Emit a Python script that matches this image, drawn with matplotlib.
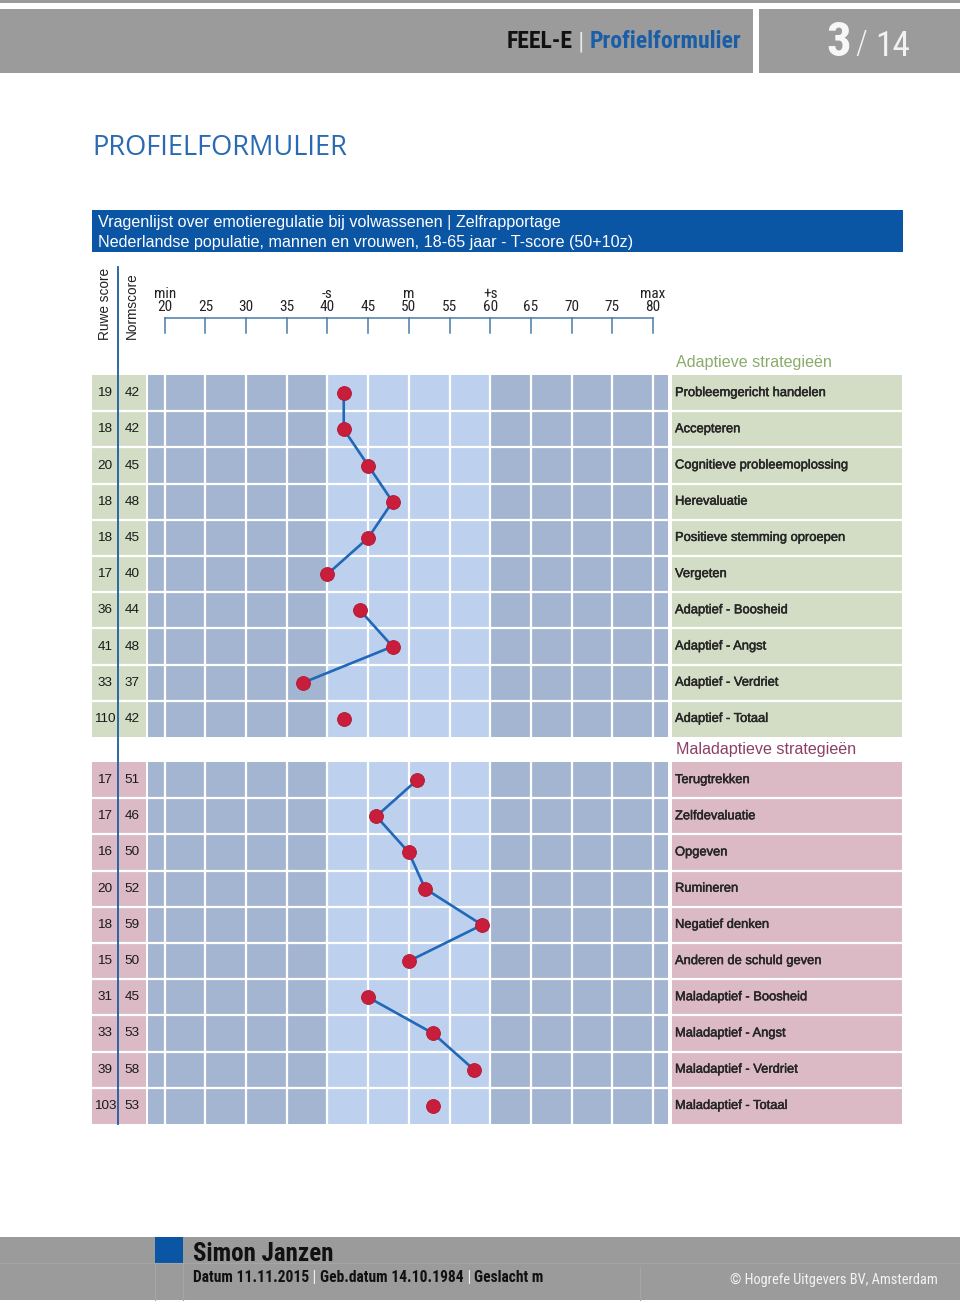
import matplotlib
matplotlib.use('Agg')
import matplotlib.pyplot as plt
from matplotlib.patches import Rectangle
from matplotlib.transforms import blended_transform_factory
from matplotlib import font_manager
import matplotlib.patheffects as pe

# ---------------- data ----------------
adaptive_labels = ["Probleemgericht handelen", "Accepteren", "Cognitieve probleemoplossing",
                   "Herevaluatie", "Positieve stemming oproepen", "Vergeten",
                   "Adaptief - Boosheid", "Adaptief - Angst", "Adaptief - Verdriet",
                   "Adaptief - Totaal"]
adaptive_raw = [19, 18, 20, 18, 18, 17, 36, 41, 33, 110]
adaptive_norm = [42, 42, 45, 48, 45, 40, 44, 48, 37, 42]

maladaptive_labels = ["Terugtrekken", "Zelfdevaluatie", "Opgeven", "Rumineren",
                      "Negatief denken", "Anderen de schuld geven",
                      "Maladaptief - Boosheid", "Maladaptief - Angst",
                      "Maladaptief - Verdriet", "Maladaptief - Totaal"]
maladaptive_raw = [17, 17, 16, 20, 18, 15, 31, 33, 39, 103]
maladaptive_norm = [51, 46, 50, 52, 59, 50, 45, 53, 58, 53]

# groups of rows that are joined by a line
line_groups = [(0, 6), (6, 9), (9, 10)]

tick_values = [20, 25, 30, 35, 40, 45, 50, 55, 60, 65, 70, 75, 80]
tick_extra = {20: "min", 40: "-s", 50: "m", 60: "+s", 80: "max"}

# ---------------- fonts ----------------
available = {f.name for f in font_manager.fontManager.ttflist}
def pick(*names):
    for n in names:
        if n in available:
            return n
    return "DejaVu Sans"
ARIAL = pick("Liberation Sans", "Arimo", "DejaVu Sans")
NARROW = pick("Liberation Sans Narrow", "Roboto Condensed", "Open Sans Condensed", "Roboto", "Liberation Sans")
LIGHT = pick("Open Sans", "Lato", "Liberation Sans")

# ---------------- colours ----------------
GRAY = "#9b9b9b"
BLUE = "#0a55a4"
TITLE_BLUE = "#2a6ab2"
DARK = "#a4b5d1"
LIGHTC = "#bdd0ee"
GREEN = "#d3ddc5"
PINK = "#dcbac5"
LINE = "#2068b8"
RED = "#c81e3c"
AXIS = "#4b7aa6"

W, H = 960, 1303
fig = plt.figure(figsize=(9.6, 13.03), dpi=100)
bg = fig.add_axes([0, 0, 1, 1])
bg.set_xlim(0, W)
bg.set_ylim(H, 0)
bg.axis("off")

# grid geometry (pixels)
X20, X80 = 164.7, 653.0
PPT = (X80 - X20) / 60.0
GX0, GX1 = 148, 668
GY0, GY1 = 375, 1124
GAP = 0.69
NROWS = 20 + GAP

ax = fig.add_axes([GX0 / W, 1 - GY1 / H, (GX1 - GX0) / W, (GY1 - GY0) / H])
xmin = 20 - (X20 - GX0) / PPT
xmax = 80 + (GX1 - X80) / PPT
ax.set_xlim(xmin, xmax)
ax.set_ylim(NROWS, 0)
ax.axis("off")

sections = [(0.0, adaptive_labels, adaptive_raw, adaptive_norm, GREEN),
            (10.0 + GAP, maladaptive_labels, maladaptive_raw, maladaptive_norm, PINK)]

blend_bg_ax = blended_transform_factory(bg.transData, ax.transData)
blend_ax_bg = blended_transform_factory(ax.transData, bg.transData)
thick = [pe.withStroke(linewidth=0.35, foreground="#262626")]

for y0, labels, raw, norm, cellc in sections:
    n = len(labels)
    y1 = y0 + n
    ax.add_patch(Rectangle((xmin, y0), 40 - xmin, n, color=DARK, lw=0, zorder=1))
    ax.add_patch(Rectangle((40, y0), 20, n, color=LIGHTC, lw=0, zorder=1))
    ax.add_patch(Rectangle((60, y0), xmax - 60, n, color=DARK, lw=0, zorder=1))
    ax.vlines(tick_values, y0, y1, color="white", lw=1.6, zorder=2)
    ax.hlines([y0 + k for k in range(1, n)], xmin, xmax, color="white", lw=1.6, zorder=2)
    bg.add_patch(Rectangle((92, y0), 54, n, transform=blend_bg_ax, color=cellc, lw=0, zorder=1))
    bg.add_patch(Rectangle((672, y0), 230, n, transform=blend_bg_ax, color=cellc, lw=0, zorder=1))
    for k in range(1, n):
        bg.plot([92, 146], [y0 + k, y0 + k], transform=blend_bg_ax, color="white", lw=1.6, zorder=2)
        bg.plot([672, 902], [y0 + k, y0 + k], transform=blend_bg_ax, color="white", lw=1.6, zorder=2)
    for i in range(n):
        yc = y0 + i + 0.5
        bg.text(105, yc, str(raw[i]), transform=blend_bg_ax, ha="center", va="center",
                fontsize=9.7, family=ARIAL, color="#1a1a1a", zorder=4)
        bg.text(132, yc, str(norm[i]), transform=blend_bg_ax, ha="center", va="center",
                fontsize=9.7, family=ARIAL, color="#1a1a1a", zorder=4)
        bg.text(675, yc, labels[i], transform=blend_bg_ax, ha="left", va="center",
                fontsize=9.3, family=ARIAL, color="#262626", zorder=4, path_effects=thick)
    for a, b in line_groups:
        ys = [y0 + i + 0.5 for i in range(a, b)]
        ax.plot(norm[a:b], ys, color=LINE, lw=1.9, zorder=5, solid_capstyle="round")
    ax.plot(norm, [y0 + i + 0.5 for i in range(n)], linestyle="none", marker="o",
            markersize=10, markerfacecolor=RED, markeredgecolor="#b01832",
            markeredgewidth=0.6, zorder=6)

bg.text(676, 362, "Adaptieve strategieën", ha="left", va="center", fontsize=11.6,
        family=ARIAL, color="#8aab6b")
bg.text(676, 10 + GAP / 2, "Maladaptieve strategieën", transform=blend_bg_ax, ha="left",
        va="center", fontsize=11.6, family=ARIAL, color="#8c3f66")

bg.plot([118, 118], [267, GY1], color="#1f5c9e", lw=1.3, zorder=7)

bg.plot([20, 80], [317.7, 317.7], transform=blend_ax_bg, color=AXIS, lw=1.1)
for t in tick_values:
    bg.plot([t, t], [317.7, 333], transform=blend_ax_bg, color=AXIS, lw=1.1)
    bg.text(t, 307, str(t), transform=blend_ax_bg, ha="center", va="center",
            fontsize=11, family=NARROW, color="#222222")
    if t in tick_extra:
        bg.text(t, 294.5, tick_extra[t], transform=blend_ax_bg, ha="center", va="center",
                fontsize=11, family=NARROW, color="#222222")

bg.text(105, 304, "Ruwe score", rotation=90, ha="center", va="center", fontsize=9.8,
        family=ARIAL, color="#222222")
bg.text(132, 306, "Normscore", rotation=90, ha="center", va="center", fontsize=9.8,
        family=ARIAL, color="#222222")

# ---------------- header ----------------
bg.add_patch(Rectangle((0, 0), W, 3, color=GRAY, lw=0))
bg.add_patch(Rectangle((0, 9), 753, 64, color=GRAY, lw=0))
bg.add_patch(Rectangle((759, 9), W - 759, 64, color=GRAY, lw=0))

renderer = fig.canvas.get_renderer()
def width_px(t):
    return t.get_window_extent(renderer=renderer).width

def seq_right(xr, y, parts, **kw):
    x = xr
    for s, props in reversed(parts):
        p = dict(kw)
        p.update(props)
        t = bg.text(x, y, s, ha="right", va="center", **p)
        x -= width_px(t)

def seq_left(xl, y, parts, **kw):
    x = xl
    for s, props in parts:
        p = dict(kw)
        p.update(props)
        t = bg.text(x, y, s, ha="left", va="center", **p)
        x += width_px(t)

seq_right(741, 42, [("FEEL-E", dict(color="#111111")),
                    (" | ", dict(color="#e8e8e8", fontweight="normal")),
                    ("Profielformulier", dict(color="#1a5ea8"))],
          fontsize=17, family=NARROW, fontweight="bold")

bg.text(851, 43, "3", ha="right", va="center", fontsize=35, family=NARROW,
        fontweight="bold", color="#f7f7f7")
bg.text(855, 45, "/", ha="left", va="center", fontsize=24, family=NARROW,
        color="#f2f2f2", fontweight="light")
bg.text(875, 47, "14", ha="left", va="center", fontsize=25.5, family=NARROW,
        color="#f2f2f2")

# ---------------- title & banner ----------------
bg.text(92, 148, "PROFIELFORMULIER", ha="left", va="center", fontsize=19.6,
        family=LIGHT, color=TITLE_BLUE)
bg.add_patch(Rectangle((92, 210), 811, 42, color=BLUE, lw=0))
bg.text(98, 222, "Vragenlijst over emotieregulatie bij volwassenen | Zelfrapportage",
        ha="left", va="center", fontsize=11.6, family=ARIAL, color="white")
bg.text(98, 243, "Nederlandse populatie, mannen en vrouwen, 18-65 jaar - T-score (50+10z)",
        ha="left", va="center", fontsize=11.6, family=ARIAL, color="white")

# ---------------- footer ----------------
bg.add_patch(Rectangle((0, 1237), W, 63, color=GRAY, lw=0))
bg.plot([0, W], [1263, 1263], color="#a6a6a6", lw=0.8)
bg.plot([155, 155], [1263, 1300], color="#a6a6a6", lw=0.8)
bg.plot([183, 183], [1263, 1300], color="#a6a6a6", lw=0.8)
bg.plot([640, 640], [1268, 1300], color="#a6a6a6", lw=0.8)
bg.add_patch(Rectangle((155, 1237), 28, 26, color=BLUE, lw=0))
bg.text(193, 1254, "Simon Janzen", ha="left", va="center", fontsize=18,
        family=NARROW, fontweight="bold", color="#111111")
seq_left(193, 1278, [("Datum 11.11.2015", dict(color="#111111")),
                     (" | ", dict(color="#f0f0f0", fontweight="normal")),
                     ("Geb.datum 14.10.1984", dict(color="#111111")),
                     (" | ", dict(color="#f0f0f0", fontweight="normal")),
                     ("Geslacht m", dict(color="#111111"))],
         fontsize=11.2, family=NARROW, fontweight="bold")
bg.text(938, 1280, "© Hogrefe Uitgevers BV, Amsterdam", ha="right", va="center",
        fontsize=10.4, family=NARROW, color="#f4f4f4")

fig.savefig("out.png", dpi=100)
